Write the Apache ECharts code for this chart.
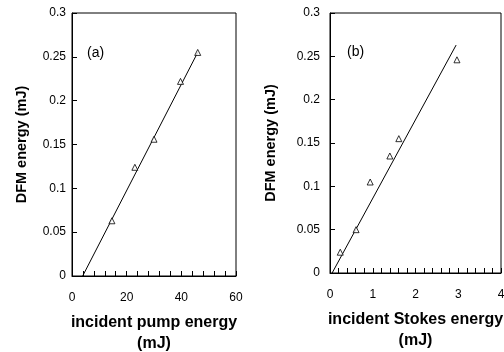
<!DOCTYPE html>
<html>
<head>
<meta charset="utf-8">
<script src="https://cdn.jsdelivr.net/npm/echarts@6/dist/echarts.min.js"></script>
<style>
	html, body { margin: 0; padding: 0; background: #fff; }
	#chart { width: 504px; height: 352px; }
</style>
</head>
<body>
<div id="chart"></div>
<script>
// panel (a): DFM energy vs incident pump energy
const pumpX = [14.6, 23, 30, 39.7, 46]
const pumpY = [0.063, 0.124, 0.156, 0.222, 0.255]
const pumpFit = [[3.9, 0], [46, 0.255]]

// panel (b): DFM energy vs incident Stokes energy
const stokesX = [0.24, 0.61, 0.94, 1.4, 1.61, 2.97]
const stokesY = [0.024, 0.05, 0.105, 0.135, 0.155, 0.246]
const stokesFit = [[0.05, 0], [2.95, 0.263]]

const yName = 'DFM energy (mJ)'
const xNames = ['incident pump energy\n(mJ)', 'incident Stokes energy\n(mJ)']
const panelLabels = ['(a)', '(b)']

const font = 'Liberation Sans, Arial, sans-serif'
const ink = '#000'

function pairs(xs, ys) { return xs.map((x, i) => [x, ys[i]]) }

function xAxis(gridIndex, max, interval, name) {
	return {
		type: 'value', gridIndex, min: 0, max, interval, name,
		nameLocation: 'middle', nameGap: 36,
		nameTextStyle: { fontFamily: font, fontWeight: 'bold', fontSize: 16, color: ink, lineHeight: 21 },
		axisLine: { lineStyle: { color: ink, width: 1 } },
		axisTick: { inside: true, length: 5, lineStyle: { color: ink } },
		minorTick: { show: true, splitNumber: 5, length: 5, lineStyle: { color: ink } },
		axisLabel: { fontFamily: font, fontSize: 12, color: ink, margin: 16 },
		splitLine: { show: false },
	}
}

function yAxis(gridIndex, nameGap, margin) {
	return {
		type: 'value', gridIndex, min: 0, max: 0.3, interval: 0.05, name: yName,
		nameLocation: 'middle', nameGap,
		nameTextStyle: { fontFamily: font, fontWeight: 'bold', fontSize: 14.5, color: ink },
		axisLine: { show: true, lineStyle: { color: ink, width: 1 } },
		axisTick: { show: true, inside: true, length: 5, lineStyle: { color: ink } },
		axisLabel: { fontFamily: font, fontSize: 12, color: ink, margin },
		splitLine: { show: false },
	}
}

function fitSeries(idx, data) {
	return {
		type: 'line', xAxisIndex: idx, yAxisIndex: idx, data, symbol: 'none',
		lineStyle: { color: ink, width: 1 }, z: 2, silent: true,
	}
}

function pointSeries(idx, data) {
	return {
		type: 'scatter', xAxisIndex: idx, yAxisIndex: idx, data,
		symbol: 'triangle', symbolSize: 6,
		itemStyle: { color: '#fff', borderColor: ink, borderWidth: 1 }, z: 3,
	}
}

const chart = echarts.init(document.getElementById('chart'))
chart.setOption({
	animation: false,
	backgroundColor: '#fff',
	grid: [
		{ left: 72, right: 268, top: 13, bottom: 76, show: true, borderColor: ink, borderWidth: 1, outerBoundsMode: 'none' },
		{ left: 330, right: 3, top: 13, bottom: 79, show: true, borderColor: ink, borderWidth: 1, outerBoundsMode: 'none' },
	],
	xAxis: [xAxis(0, 60, 20, xNames[0]), xAxis(1, 4, 1, xNames[1])],
	yAxis: [yAxis(0, 43, 6), yAxis(1, 52, 10)],
	graphic: [
		{ type: 'text', left: 87, top: 46, style: { text: panelLabels[0], font: '14px ' + font, fill: ink } },
		{ type: 'text', left: 347, top: 45, style: { text: panelLabels[1], font: '14px ' + font, fill: ink } },
	],
	series: [
		fitSeries(0, pumpFit),
		pointSeries(0, pairs(pumpX, pumpY)),
		fitSeries(1, stokesFit),
		pointSeries(1, pairs(stokesX, stokesY)),
	],
})
</script>
</body>
</html>
